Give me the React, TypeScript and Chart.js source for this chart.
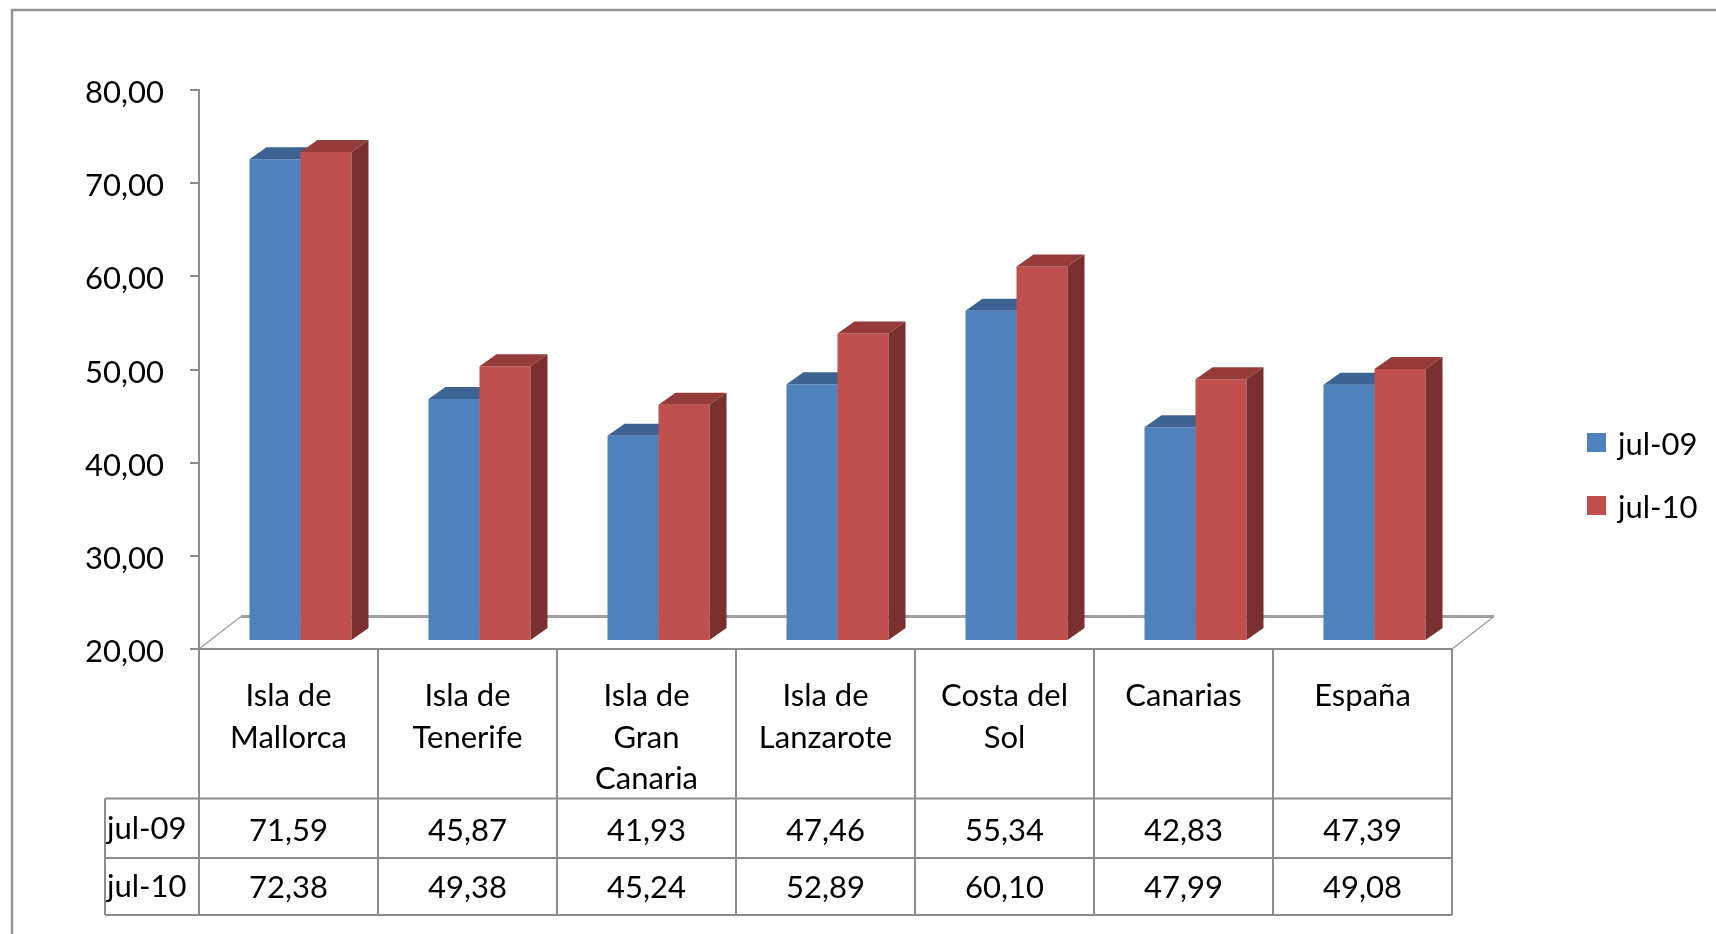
import React, { useEffect, useRef } from 'react';
import { Chart, registerables } from 'chart.js';

Chart.register(...registerables);

// ---------- data ----------
const categories: string[][] = [
  ['Isla de', 'Mallorca'],
  ['Isla de', 'Tenerife'],
  ['Isla de', 'Gran', 'Canaria'],
  ['Isla de', 'Lanzarote'],
  ['Costa del', 'Sol'],
  ['Canarias'],
  ['España'],
];
const seriesNames = ['jul-09', 'jul-10'];
const jul09 = [71.59, 45.87, 41.93, 47.46, 55.34, 42.83, 47.39];
const jul10 = [72.38, 49.38, 45.24, 52.89, 60.1, 47.99, 49.08];
const yMin = 20;
const yMax = 80;
const yStep = 10;

// ---------- styles ----------
const FONT = '31px Lato';
const GRID = '#8c8c8c';
const frontColors = ['#4F81BD', '#C0504D'];
const topColors = ['#3C6392', '#953B39'];
const sideColors = ['#385D8A', '#7A302E'];

const BAR_DX = 12; // bars placed a little into the floor depth
const BAR_DY = 9;
const FACE_DX = 17; // bar depth
const FACE_DY = 12;
const FLOOR_DX = 42;
const FLOOR_DY = 32.5;

const fmt = (v: number) => v.toFixed(2).replace('.', ',');

const frame3D = {
  id: 'frame3D',
  beforeDraw(chart: any) {
    const ctx = chart.ctx;
    ctx.save();
    ctx.fillStyle = '#ffffff';
    ctx.fillRect(0, 0, chart.width, chart.height);
    ctx.strokeStyle = '#959595';
    ctx.lineWidth = 2.5;
    ctx.beginPath();
    ctx.moveTo(12, chart.height + 5);
    ctx.lineTo(12, 10);
    ctx.lineTo(chart.width + 5, 10);
    ctx.stroke();
    ctx.restore();
  },
  beforeDatasetsDraw(chart: any) {
    const ctx = chart.ctx;
    const a = chart.chartArea;
    ctx.save();
    ctx.strokeStyle = '#a3a3a3';
    ctx.lineWidth = 1.5;
    ctx.beginPath();
    ctx.moveTo(a.left, a.bottom);
    ctx.lineTo(a.left + FLOOR_DX, a.bottom - FLOOR_DY);
    ctx.moveTo(a.right, a.bottom);
    ctx.lineTo(a.right + FLOOR_DX, a.bottom - FLOOR_DY);
    ctx.stroke();
    ctx.lineWidth = 3;
    ctx.strokeStyle = '#a0a0a0';
    ctx.beginPath();
    ctx.moveTo(a.left + FLOOR_DX, a.bottom - FLOOR_DY);
    ctx.lineTo(a.right + FLOOR_DX, a.bottom - FLOOR_DY);
    ctx.stroke();
    ctx.restore();
  },
  beforeDatasetDraw() {
    // bars are drawn below, in front-to-back order with their 3D faces
    return false;
  },
  afterDatasetsDraw(chart: any) {
    const ctx = chart.ctx;
    const a = chart.chartArea;
    ctx.save();
    ctx.translate(BAR_DX, -BAR_DY);
    ctx.beginPath();
    ctx.rect(a.left, 0, a.right - a.left + 100, a.bottom);
    ctx.clip();
    chart.data.datasets.forEach((_ds: any, i: number) => {
      const meta = chart.getDatasetMeta(i);
      meta.data.forEach((el: any) => {
        el.draw(ctx);
        const p = el.getProps(['x', 'y', 'base', 'width'], true);
        const base = Math.min(p.base, a.bottom);
        const l = p.x - p.width / 2;
        const r = p.x + p.width / 2;
        ctx.fillStyle = topColors[i];
        ctx.beginPath();
        ctx.moveTo(l, p.y);
        ctx.lineTo(l + FACE_DX, p.y - FACE_DY);
        ctx.lineTo(r + FACE_DX, p.y - FACE_DY);
        ctx.lineTo(r, p.y);
        ctx.closePath();
        ctx.fill();
        ctx.fillStyle = sideColors[i];
        ctx.beginPath();
        ctx.moveTo(r, p.y);
        ctx.lineTo(r + FACE_DX, p.y - FACE_DY);
        ctx.lineTo(r + FACE_DX, base - FACE_DY);
        ctx.lineTo(r, base);
        ctx.closePath();
        ctx.fill();
      });
    });
    ctx.restore();
  },
  afterDraw(chart: any) {
    const ctx = chart.ctx;
    const a = chart.chartArea;
    const n = chart.data.labels.length;
    const colW = (a.right - a.left) / n;
    const headTop = a.bottom;
    const row1Top = 798.5;
    const row2Top = 858;
    const tableBottom = 915;
    const rowLeft = 105;

    ctx.save();
    ctx.strokeStyle = GRID;
    ctx.lineWidth = 2;
    ctx.beginPath();
    ctx.moveTo(a.left, headTop);
    ctx.lineTo(a.right, headTop);
    for (const y of [row1Top, row2Top, tableBottom]) {
      ctx.moveTo(rowLeft, y);
      ctx.lineTo(a.right, y);
    }
    for (let k = 0; k <= n; k++) {
      const x = a.left + k * colW;
      ctx.moveTo(x, headTop);
      ctx.lineTo(x, tableBottom);
    }
    ctx.moveTo(rowLeft, row1Top);
    ctx.lineTo(rowLeft, tableBottom);
    ctx.stroke();

    ctx.fillStyle = '#000000';
    ctx.font = FONT;
    ctx.textBaseline = 'alphabetic';
    ctx.textAlign = 'center';
    const xs = chart.scales.x;
    chart.data.labels.forEach((lab: string[], k: number) => {
      const cx = xs.getPixelForValue(k);
      lab.forEach((line, j) => ctx.fillText(line, cx, 706 + j * 41.5));
      chart.data.datasets.forEach((ds: any, d: number) => {
        ctx.fillText(fmt(ds.data[k]), cx, d === 0 ? 840.5 : 898);
      });
    });
    ctx.textAlign = 'left';
    chart.data.datasets.forEach((ds: any, d: number) => {
      ctx.fillText(ds.label, 107, d === 0 ? 839 : 897);
    });

    // legend
    chart.data.datasets.forEach((ds: any, d: number) => {
      const y0 = d === 0 ? 433 : 496;
      ctx.fillStyle = ds.backgroundColor;
      ctx.fillRect(1587, y0, 19, 19);
      ctx.fillStyle = '#000000';
      ctx.fillText(ds.label, 1618, d === 0 ? 455 : 518);
    });
    ctx.restore();
  },
};

export default function App() {
  const ref = useRef<HTMLCanvasElement | null>(null);
  useEffect(() => {
    if (!ref.current) return;
    const chart = new Chart(ref.current, {
      type: 'bar',
      data: {
        labels: categories as any,
        datasets: [
          { label: seriesNames[0], data: jul09, backgroundColor: frontColors[0], borderWidth: 0 },
          { label: seriesNames[1], data: jul10, backgroundColor: frontColors[1], borderWidth: 0 },
        ],
      },
      options: {
        responsive: false,
        animation: false,
        events: [],
        layout: { padding: { left: 0, top: 90, right: 264, bottom: 285 } },
        datasets: { bar: { barPercentage: 1, categoryPercentage: 0.57 } },
        scales: {
          x: { display: false },
          y: {
            min: yMin,
            max: yMax,
            afterFit: (s: any) => {
              s.width = 199;
            },
            ticks: {
              stepSize: yStep,
              callback: (v: any) => fmt(Number(v)),
              font: { family: 'Lato', size: 31 },
              color: '#000000',
              padding: 26,
              labelOffset: 3,
            },
            grid: { drawOnChartArea: false, tickLength: 9, color: GRID, lineWidth: 2 },
            border: { display: true, color: GRID, width: 2 },
          },
        },
        plugins: { legend: { display: false }, tooltip: { enabled: false } },
      },
      plugins: [frame3D],
    });
    return () => chart.destroy();
  }, []);
  return (
    <div style={{ position: 'fixed', left: 0, top: 0, width: 1716, height: 934, background: '#fff' }}>
      <canvas ref={ref} width={1716} height={934} style={{ display: 'block' }} />
    </div>
  );
}
